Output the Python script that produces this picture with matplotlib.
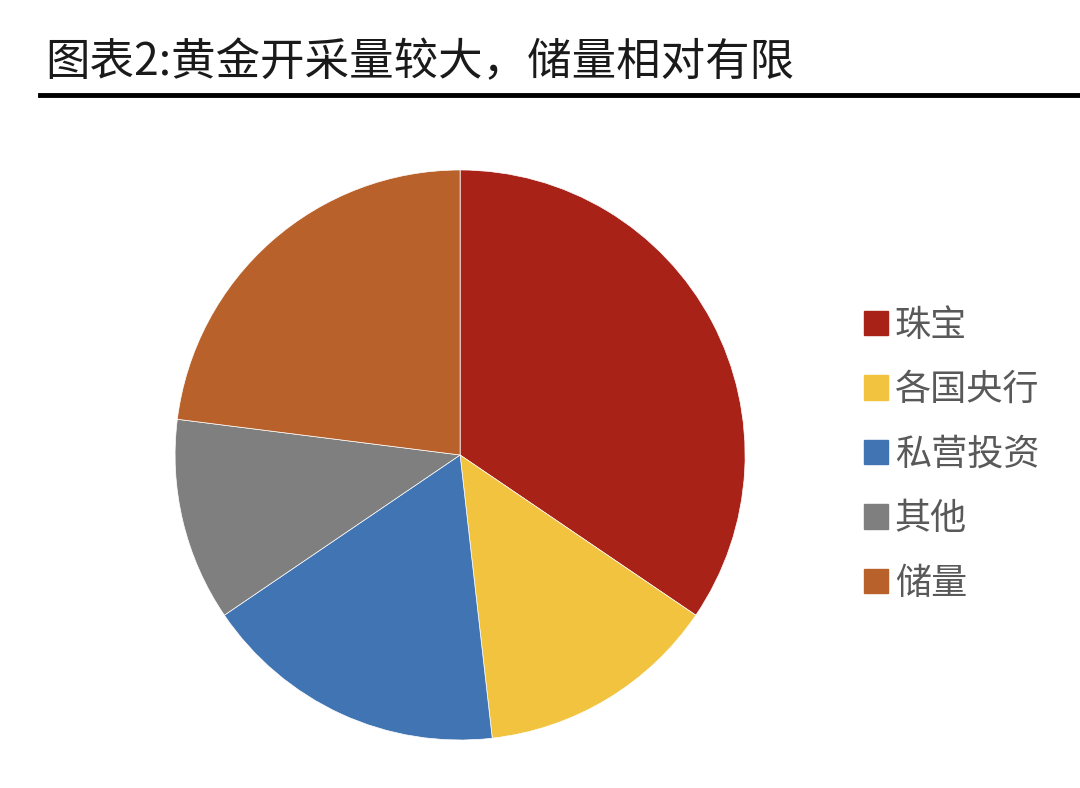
import matplotlib.pyplot as plt
from matplotlib.patches import Patch

plt.rcParams['font.family'] = ['Noto Sans CJK SC', 'DejaVu Sans']

title = "图表2:黄金开采量较大，储量相对有限"
labels = ["珠宝", "各国央行", "私营投资", "其他", "储量"]
shares = [34.5, 13.7, 17.3, 11.5, 23.0]
colors = ["#A92218", "#F2C33F", "#4174B2", "#7F7F7F", "#B9612A"]


def main():
    fig = plt.figure(figsize=(10.8, 7.88), dpi=100)

    fig.text(0.042, 0.921, title, fontsize=32, fontweight="medium",
             color="#1a1a1a", va="center", ha="left")
    fig.add_artist(plt.Line2D([0.037, 1.0], [0.879, 0.879], color="black",
                              linewidth=3.5, transform=fig.transFigure))

    ax = fig.add_axes([0.426 - 0.2639, 0.4226 - 0.3617, 0.5278, 0.7234])
    ax.pie(shares, colors=colors, startangle=90, counterclock=False,
           wedgeprops=dict(edgecolor="white", linewidth=0.5))
    ax.set_xlim(-1, 1)
    ax.set_ylim(-1, 1)
    ax.set_aspect("equal")
    ax.axis("off")

    handles = [Patch(facecolor=c, edgecolor=c) for c in colors]
    fig.legend(handles, labels, loc="center left", bbox_to_anchor=(0.77, 0.423),
               frameon=False, fontsize=26, labelcolor="#595959",
               handlelength=0.65, handleheight=0.65, handletextpad=0.2,
               labelspacing=0.79)

    plt.savefig("out.png")


if __name__ == '__main__':
    main()
